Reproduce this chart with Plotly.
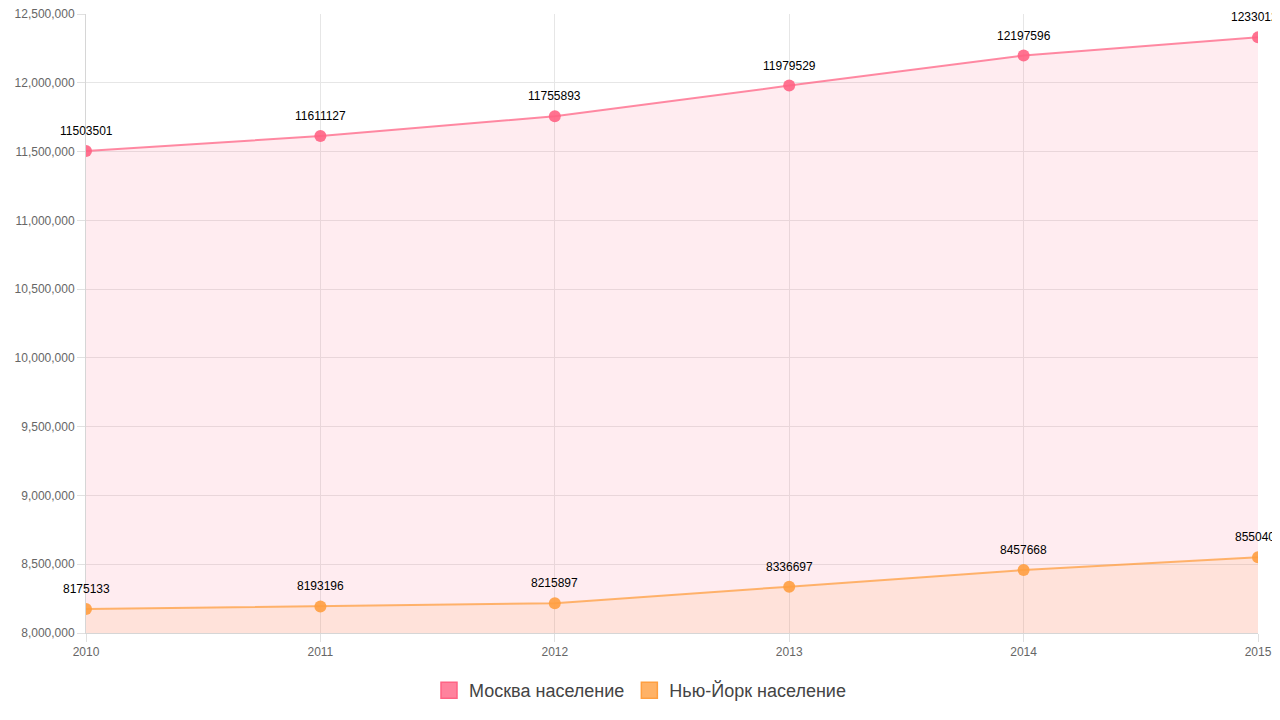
import plotly.graph_objects as go

years = [2010, 2011, 2012, 2013, 2014, 2015]
moscow = [11503501, 11612943, 11755893, 11979529, 12197596, 12330126]
new_york = [8175133, 8193196, 8215897, 8336697, 8457668, 8550405]
moscow_labels = ['11503501', '11611127', '11755893', '11979529', '12197596', '12330126']
ny_labels = [str(v) for v in new_york]

series = [
    ('Москва население', moscow, moscow_labels, (255, 99, 132)),
    ('Нью-Йорк население', new_york, ny_labels, (255, 159, 64)),
]

fig = go.Figure()
annotations = []
for name, vals, labels, (r, g, b) in series:
    fig.add_trace(go.Scatter(
        x=years, y=vals, mode='lines+markers', fill='tozeroy',
        fillcolor=f'rgba({r},{g},{b},0.12)',
        line=dict(color=f'rgba({r},{g},{b},0.75)', width=2),
        marker=dict(size=12, color=f'rgba({r},{g},{b},0.9)'),
        showlegend=False, hoverinfo='x+y', name=name,
    ))
    # dummy trace for the square legend swatch
    fig.add_trace(go.Scatter(
        x=[None], y=[None], mode='markers', name=name,
        marker=dict(symbol='square', size=21, color=f'rgba({r},{g},{b},0.8)',
                    line=dict(color=f'rgb({r},{g},{b})', width=1.5)),
    ))
    for x, y, t in zip(years, vals, labels):
        annotations.append(dict(x=x, y=y, text=t, showarrow=False, yshift=20,
                                font=dict(size=12, color='#000')))

# the page has an 8px body margin, so the figure div is 1264x704 at (8, 8)
fig.update_layout(
    margin=dict(l=78, r=14, t=6, b=79, autoexpand=False),
    plot_bgcolor='white', paper_bgcolor='white',
    font=dict(family='Liberation Sans, Arial, sans-serif', color='#666', size=12),
    annotations=annotations,
    showlegend=True,
    legend=dict(orientation='h', xref='container', x=0.5, xanchor='center',
                y=-0.093, yanchor='middle',
                font=dict(size=18, color='#444'), itemsizing='trace'),
    xaxis=dict(range=[2010, 2015], tickvals=years, showgrid=True, gridcolor='#e6e6e6',
               showline=True, linecolor='#d6d6d6', ticks='outside', ticklen=8,
               tickcolor='#e0e0e0', zeroline=False, automargin=False,
               ticklabeloverflow='allow'),
    yaxis=dict(range=[8000000, 12500000], dtick=500000, tickformat=',',
               showgrid=True, gridcolor='#e6e6e6', showline=True, linecolor='#d6d6d6',
               ticks='outside', ticklen=8, tickcolor='#e0e0e0', zeroline=False,
               automargin=False, ticklabeloverflow='allow'),
)

fig.write_html("out.html")
